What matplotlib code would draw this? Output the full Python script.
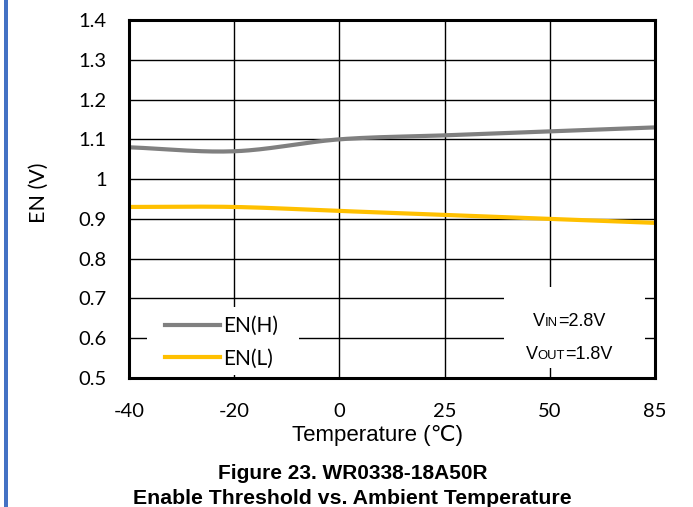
import numpy as np
import matplotlib
matplotlib.use("Agg")
import matplotlib.pyplot as plt
from matplotlib.patches import Rectangle
from matplotlib.offsetbox import TextArea, HPacker, VPacker, AnchoredOffsetbox

temps = ["-40", "-20", "0", "25", "50", "85"]
en_h = [1.08, 1.07, 1.10, 1.11, 1.12, 1.13]
en_l = [0.93, 0.93, 0.92, 0.91, 0.90, 0.89]

W, H = 693, 507


def px(x, y):
    # pixel position (from top left) -> figure fraction
    return x / W, 1 - y / H


def smooth(x, y, n=30):
    # catmull-rom style smoothing, like the spreadsheet "smoothed line"
    x = np.asarray(x, float)
    y = np.asarray(y, float)
    px_ = np.concatenate([[2 * x[0] - x[1]], x, [2 * x[-1] - x[-2]]])
    py_ = np.concatenate([[2 * y[0] - y[1]], y, [2 * y[-1] - y[-2]]])
    xs, ys = [], []
    t = np.linspace(0, 1, n)
    for i in range(1, len(px_) - 2):
        for p, out in ((px_, xs), (py_, ys)):
            p0, p1, p2, p3 = p[i - 1], p[i], p[i + 1], p[i + 2]
            b1 = p1 + (p2 - p0) / 6
            b2 = p2 - (p3 - p1) / 6
            out.extend((1 - t) ** 3 * p1 + 3 * (1 - t) ** 2 * t * b1
                       + 3 * (1 - t) * t ** 2 * b2 + t ** 3 * p2)
    return np.array(xs), np.array(ys)


fam = ["Liberation Sans", "DejaVu Sans"]
tickfs = 14.5

fig = plt.figure(figsize=(W / 100, H / 100), dpi=100)
ax = fig.add_axes([129 / W, 1 - 378 / H, 526 / W, 358 / H])

xi = np.arange(len(temps))
sx, sy = smooth(xi, en_h)
ax.plot(sx, sy, color="#808080", lw=3, label="EN(H)")
sx, sy = smooth(xi, en_l)
ax.plot(sx, sy, color="#FFC000", lw=3, label="EN(L)")

ax.set_xlim(0, len(temps) - 1)
ax.set_ylim(0.5, 1.4)
ax.set_xticks(xi)
ax.set_xticklabels(temps)
ax.set_yticks(np.arange(0.5, 1.41, 0.1))
ax.set_yticklabels(["0.5", "0.6", "0.7", "0.8", "0.9", "1", "1.1", "1.2", "1.3", "1.4"])
ax.grid(True, color="black", lw=1.0)
ax.set_axisbelow(True)
for s in ax.spines.values():
    s.set_linewidth(2.2)
    s.set_zorder(7)
ax.tick_params(axis="x", length=0, pad=18, labelsize=tickfs)
ax.tick_params(axis="y", length=0, pad=16, labelsize=tickfs)
for lab in ax.get_xticklabels() + ax.get_yticklabels():
    lab.set_fontfamily("Lato")

fig.text(*px(39, 193), "EN (V)", rotation=90, ha="center", va="center",
         fontsize=15.5, fontfamily="Lato")
fig.text(*px(377, 441), "Temperature (\u2103)", ha="center", va="baseline",
         fontsize=16, fontfamily=fam)

# white boxes for legend and conditions, hiding the grid
for x0, y0, x1, y1 in [(147, 307, 299, 375), (504, 287, 645, 368)]:
    fx, fy = px(x0, y1)
    ax.add_patch(Rectangle((fx, fy), (x1 - x0) / W, (y1 - y0) / H,
                           transform=fig.transFigure, facecolor="white",
                           edgecolor="none", zorder=3))

leg = ax.legend(loc="upper left", bbox_to_anchor=px(165, 316),
                bbox_transform=fig.transFigure, frameon=False, borderpad=0,
                borderaxespad=0, handlelength=2.65, handletextpad=0.15,
                labelspacing=0.6, prop={"family": "Lato", "size": 15})
leg.set_zorder(5)

big, small = 13, 9.4


def line(parts):
    return HPacker(children=[TextArea(t, textprops=dict(fontsize=s, family=fam))
                             for t, s in parts], align="baseline", pad=0, sep=0)


cond = VPacker(children=[line([("V", big), ("IN", small), ("=2.8V", big)]),
                         line([("V", big), ("OUT", small), ("=1.8V", big)])],
               align="center", pad=0, sep=11)
box = AnchoredOffsetbox(loc="center", child=cond, frameon=False,
                        bbox_to_anchor=px(569, 338),
                        bbox_transform=fig.transFigure, pad=0, borderpad=0)
box.set_zorder(6)
ax.add_artist(box)

fig.text(*px(353, 479), "Figure 23. WR0338-18A50R", ha="center", va="baseline",
         fontsize=15, fontweight="bold", family=fam)
fig.text(*px(352, 504), "Enable Threshold vs. Ambient Temperature", ha="center",
         va="baseline", fontsize=15.3, fontweight="bold", family=fam)

fig.patches.append(Rectangle((4 / W, 0), 3.5 / W, 1, transform=fig.transFigure,
                             facecolor="#4472C4", edgecolor="none"))

fig.savefig("out.png", dpi=100)
